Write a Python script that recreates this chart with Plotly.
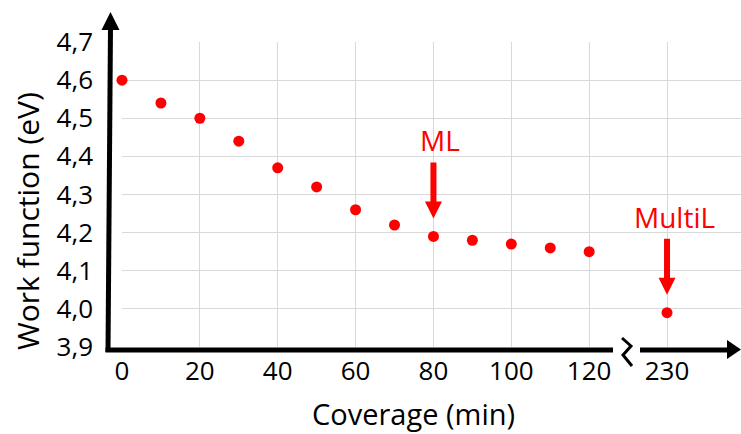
import plotly.graph_objects as go

# Work function vs. deposition time
coverage_min = [0, 10, 20, 30, 40, 50, 60, 70, 80, 90, 100, 110, 120, 230]
work_function_ev = [4.60, 4.54, 4.50, 4.44, 4.37, 4.32, 4.26, 4.22, 4.19, 4.18, 4.17, 4.16, 4.15, 3.99]

x_tick_labels = ["0", "20", "40", "60", "80", "100", "120", "230"]
y_ticks = [3.9, 4.0, 4.1, 4.2, 4.3, 4.4, 4.5, 4.6, 4.7]

# labelled points
markers_text = ["ML", "MultiL"]
markers_cov = [80, 230]

# broken x axis: everything after 120 min is drawn one tick further on
BREAK_AFTER = 120
BREAK_POS = 140


def axis_pos(c):
    return c if c <= BREAK_AFTER else BREAK_POS


x_pos = [axis_pos(c) for c in coverage_min]
tick_pos = [0, 20, 40, 60, 80, 100, 120, BREAK_POS]

W, H = 741, 434
ML, MR, MT, MB = 122, 0, 42, 87
PW, PH = W - ML - MR, H - MT - MB


def px(p):
    return (p - ML) / PW


def py(p):
    return (H - MB - p) / PH


FONT = "Open Sans"
RED = "#ff0000"

fig = go.Figure()
fig.add_trace(go.Scatter(
    x=x_pos, y=work_function_ev, mode="markers",
    marker=dict(color=RED, size=11),
    cliponaxis=False, showlegend=False, hoverinfo="skip",
))

shapes = []
# y axis with arrow
shapes.append(dict(type="line", xref="paper", yref="paper",
                   x0=px(108), y0=py(352), x1=px(110.5), y1=py(27),
                   line=dict(color="black", width=5), layer="above"))
shapes.append(dict(type="path", xref="paper", yref="paper",
                   path=f"M {px(110.5)},{py(12)} L {px(119.5)},{py(30)} L {px(101.5)},{py(30)} Z",
                   fillcolor="black", line=dict(width=0), layer="above"))
# x axis, split at the break, with arrow
shapes.append(dict(type="line", xref="paper", yref="paper",
                   x0=px(105.5), y0=py(350), x1=px(613), y1=py(350),
                   line=dict(color="black", width=5), layer="above"))
shapes.append(dict(type="line", xref="paper", yref="paper",
                   x0=px(640), y0=py(350), x1=px(729), y1=py(350),
                   line=dict(color="black", width=5), layer="above"))
shapes.append(dict(type="path", xref="paper", yref="paper",
                   path=f"M {px(741)},{py(349.5)} L {px(727)},{py(340)} L {px(727)},{py(359)} Z",
                   fillcolor="black", line=dict(width=0), layer="above"))
# break symbol
shapes.append(dict(type="path", xref="paper", yref="paper",
                   path=(f"M {px(622)},{py(338)} L {px(631)},{py(346)} "
                         f"L {px(623)},{py(355)} L {px(632)},{py(366)}"),
                   line=dict(color="black", width=3), layer="above"))

# red arrows pointing at the labelled points
arrow_path = "M 0,18 L 8.5,35 L 3,35 L 3,74 L -3,74 L -3,35 L -8.5,35 Z"
annotations = []
for label, cov in zip(markers_text, markers_cov):
    val = work_function_ev[coverage_min.index(cov)]
    shapes.append(dict(type="path", xref="x", yref="y",
                       xsizemode="pixel", ysizemode="pixel",
                       xanchor=axis_pos(cov), yanchor=val,
                       path=arrow_path, fillcolor=RED,
                       line=dict(width=0), layer="above"))
    annotations.append(dict(x=axis_pos(cov), y=val, xref="x", yref="y",
                            text=label, showarrow=False,
                            xshift=7, yshift=96,
                            font=dict(family=FONT, size=28, color=RED)))

annotations.append(dict(x=px(413), y=py(413), xref="paper", yref="paper",
                        xanchor="center", yanchor="middle",
                        text="Coverage (min)", showarrow=False,
                        font=dict(family=FONT, size=29, color="black")))
annotations.append(dict(x=px(27), y=py(221), xref="paper", yref="paper",
                        xanchor="center", yanchor="middle",
                        text="Work function (eV)", showarrow=False, textangle=-90,
                        font=dict(family=FONT, size=30, color="black")))

fig.update_layout(
    width=W, height=H,
    margin=dict(l=ML, r=MR, t=MT, b=MB, pad=0),
    paper_bgcolor="white", plot_bgcolor="white",
    separators=", ",
    shapes=shapes, annotations=annotations,
    xaxis=dict(range=[0, 159], tickvals=tick_pos, ticktext=x_tick_labels,
               showgrid=True, gridcolor="#d9d9d9", gridwidth=1,
               zeroline=False, showline=False, ticks="",
               ticklabelstandoff=6,
               tickfont=dict(family=FONT, size=26, color="black")),
    yaxis=dict(range=[3.9, 4.7], tickvals=y_ticks, tickformat=".1f",
               showgrid=True, gridcolor="#d9d9d9", gridwidth=1,
               zeroline=False, showline=False, ticks="",
               ticklabelstandoff=28,
               tickfont=dict(family=FONT, size=26, color="black")),
)

fig.write_html("out.html")
